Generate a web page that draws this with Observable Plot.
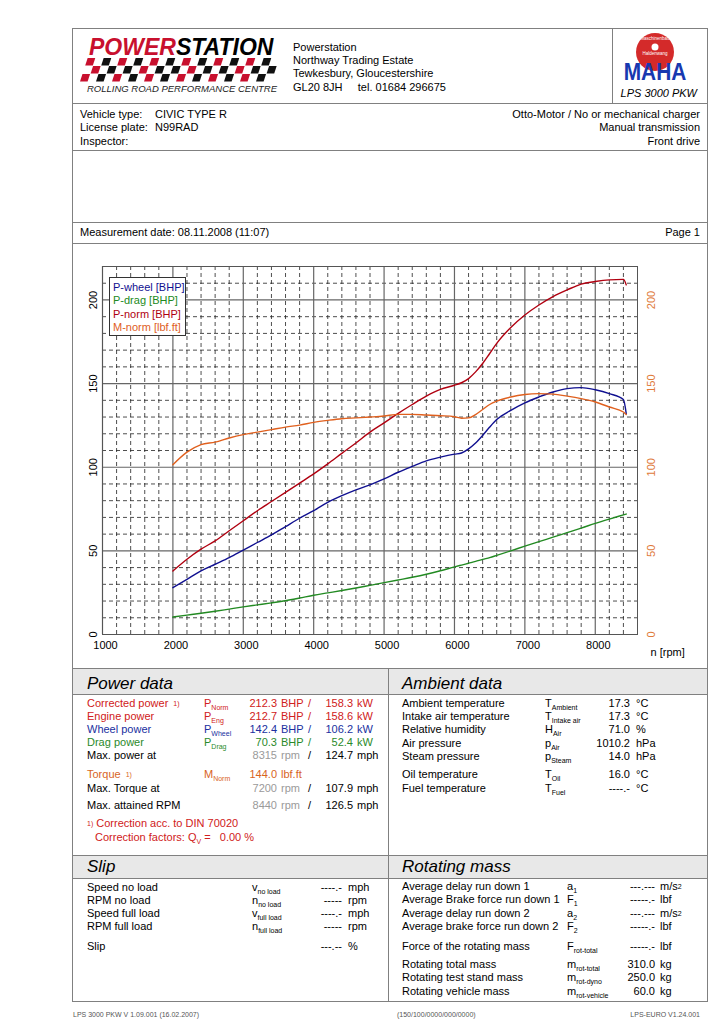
<!DOCTYPE html>
<html><head><meta charset="utf-8">
<script src="https://cdn.jsdelivr.net/npm/d3@7"></script>
<script src="https://cdn.jsdelivr.net/npm/@observablehq/plot@0.6"></script>
<style>
body{margin:0;background:#fff;}
#page{position:relative;width:724px;height:1024px;font-family:"Liberation Sans",Arial,sans-serif;color:#000;overflow:hidden;background:#fff;}
.a{position:absolute;white-space:nowrap;font-size:11px;line-height:11px;}
.hl{position:absolute;background:#808080;height:1px;}
.vl{position:absolute;background:#808080;width:1px;}
.band{position:absolute;background:#e8e8e8;}
.sub{font-size:7px;position:relative;top:3px;}
.sup{font-size:7px;position:relative;top:-1px;}
.hd{position:absolute;font-size:17px;font-style:italic;line-height:17px;white-space:nowrap;}
#chart{position:absolute;left:72px;top:243px;}
</style></head>
<body><div id="page"></div>
<script>
// ---------- chart data ----------
const rpm    = [2000,2200,2400,2600,2800,3000,3200,3400,3600,3800,4000,4200,4400,4600,4800,5000,5200,5400,5600,5800,6000,6100,6200,6300,6400,6500,6600,6800,7000,7200,7400,7600,7800,8000,8200,8400,8440];
const pWheel = [28,33,38,42,46,50.5,55,59.5,64.5,69.5,74,79,83,86.5,89.5,93,97,100.5,103.8,106,107.8,108.5,111,114.5,119,124,128.5,134,138.5,142,145,147,147.6,146.3,144,140.5,132];
const pDrag  = [10.5,11.6,12.7,13.9,15.2,16.5,17.7,18.9,20.2,21.8,23.5,24.9,26.3,27.8,29.4,31,32.6,34.2,36,38.1,40.4,41.5,42.6,43.7,44.9,46,47.3,50,52.8,55.5,58.2,60.9,63.6,66.4,69,71.5,72];
const pNorm  = [38,45,51,56,62,68,74,79.5,85,90.5,96,102,108.3,114.5,121,126.5,132.2,137.5,142.5,146.5,149,150.5,153,157,162,168,174,183.5,191,197,202,206,209.5,211,212,212.3,209];
const mNorm  = [101.5,109,113.5,115,117.5,119.5,121,122.5,124,125.2,126.8,128,129,129.5,130,130.6,131.6,131.6,131.2,130.8,130.2,129.3,129.5,131.5,134.5,137.5,139.5,142,143.5,144,143.7,142.5,141,139,136,133,131.5];
const seriesNames  = ["P-wheel [BHP]","P-drag [BHP]","P-norm [BHP]","M-norm [lbf.ft]"];
const seriesColors = ["#101090","#228a22","#b00010","#e0601e"];
const xTicks = [1000,2000,3000,4000,5000,6000,7000,8000];
const yTicks = [0,50,100,150,200];

// ---------- text data ----------
const address = ["Powerstation","Northway Trading Estate","Tewkesbury, Gloucestershire","GL20 8JH&nbsp;&nbsp;&nbsp;&nbsp; tel. 01684 296675"];
const vehicleLeft  = [["Vehicle type:","CIVIC TYPE R"],["License plate:","N99RAD"],["Inspector:",""]];
const vehicleRight = ["Otto-Motor / No or mechanical charger","Manual transmission","Front drive"];
const powerRows = [
  ["Corrected power","1)","P","Norm","212.3","BHP","158.3","kW","red"],
  ["Engine power","","P","Eng","212.7","BHP","158.6","kW","red"],
  ["Wheel power","","P","Wheel","142.4","BHP","106.2","kW","blue"],
  ["Drag power","","P","Drag","70.3","BHP","52.4","kW","green"],
  ["Max. power at","","","","8315","rpm","124.7","mph","black"],
  ["Torque","1)","M","Norm","144.0","lbf.ft","","","orange"],
  ["Max. Torque at","","","","7200","rpm","107.9","mph","black"],
  ["Max. attained RPM","","","","8440","rpm","126.5","mph","black"]
];
const powerY = [703,716,729,742,755,774,788,805];
const ambientRows = [
  ["Ambient temperature","T","Ambient","17.3","°C"],
  ["Intake air temperature","T","Intake air","17.3","°C"],
  ["Relative humidity","H","Air","71.0","%"],
  ["Air pressure","p","Air","1010.2","hPa"],
  ["Steam pressure","p","Steam","14.0","hPa"],
  ["Oil temperature","T","Oil","16.0","°C"],
  ["Fuel temperature","T","Fuel","----.-","°C"]
];
const ambientY = [703,716,729,743,756,774,788];
const slipRows = [
  ["Speed no load","v","no load","----.-","mph"],
  ["RPM no load","n","no load","-----","rpm"],
  ["Speed full load","v","full load","----.-","mph"],
  ["RPM full load","n","full load","-----","rpm"],
  ["Slip","","","---.--","%"]
];
const slipY = [887,900,913,926,946];
const rotRows = [
  ["Average delay run down 1","a","1","---.---","m/s<span class='sup'>2</span>"],
  ["Average Brake force run down 1","F","1","-----.-","lbf"],
  ["Average delay run down 2","a","2","---.---","m/s<span class='sup'>2</span>"],
  ["Average brake force run down 2","F","2","-----.-","lbf"],
  ["Force of the rotating mass","F","rot-total","-----.-","lbf"],
  ["Rotating total mass","m","rot-total","310.0","kg"],
  ["Rotating test stand mass","m","rot-dyno","250.0","kg"],
  ["Rotating vehicle mass","m","rot-vehicle","60.0","kg"]
];
const rotY = [886,899,913,926,946,964,977,991];
const footer = ["LPS 3000 PKW V 1.09.001 (16.02.2007)","(150/100/0000/000/0000)","LPS-EURO V1.24.001"];

const COL = {red:"#d02020", blue:"#2030a0", green:"#2a8a2a", orange:"#d8641e", black:"#000", gray:"#9a9a9a"};

// ---------- page builder ----------
const page = document.getElementById("page");
function el(cls, css, html){ const d=document.createElement("div"); d.className=cls; Object.assign(d.style, css); if(html!==undefined) d.innerHTML=html; page.appendChild(d); return d; }
function t(x,y,html,opt={}){
  const css={top:(y-5.5)+"px"};
  if(opt.end) css.right=(724-x)+"px"; else css.left=x+"px";
  if(opt.color) css.color=opt.color;
  if(opt.size){ css.fontSize=opt.size+"px"; css.lineHeight=opt.size+"px"; css.top=(y-opt.size/2)+"px"; }
  if(opt.italic) css.fontStyle="italic";
  if(opt.bold) css.fontWeight="bold";
  return el("a", css, html);
}
function sym(s,sub){ return s ? s+"<span class='sub'>"+sub+"</span>" : ""; }

// frame & rules
el("", {position:"absolute",left:"72px",top:"28px",width:"636px",height:"974px",border:"1px solid #808080",boxSizing:"border-box"});
el("band",{left:"73px",top:"669px",width:"634px",height:"25px"});
el("band",{left:"73px",top:"856px",width:"634px",height:"22px"});
[103,150,222,243,668,694,855,878].forEach(y=>el("hl",{left:"72px",top:y+"px",width:"636px"}));
el("vl",{left:"612px",top:"28px",height:"75px"});
el("vl",{left:"388px",top:"668px",height:"334px"});

// logo
t(89,47,"<span style='color:#c8102e'>POWER</span>STATION",{size:23,italic:true,bold:true});
el("",{position:"absolute",left:"80px",top:"57px"},
 (()=>{let s="<svg width='205' height='27'><g transform='skewX(-18) translate(8,0)'>";
  for(let r=0;r<3;r++) for(let c=0;c<24;c++){ if((r+c)%2==0){ const col=(c%4==0||r==1&&c%6==1)?"#c8102e":"#111"; s+=`<rect x='${c*8}' y='${r*8+1}' width='7.6' height='7.6' fill='${col}'/>`; } }
  return s+"</g></svg>";})());
t(87,89,"ROLLING ROAD PERFORMANCE CENTRE",{size:9.5,italic:true,color:"#222"});
address.forEach((s,i)=>t(293,47+i*13.4,s));
el("",{position:"absolute",left:"621px",top:"31px",overflow:"visible"},
 "<svg width='76' height='56' style='overflow:visible'><circle cx='34' cy='21' r='19' fill='#d42a2a'/><circle cx='34' cy='16' r='3.5' fill='#fff'/>"+
 "<text x='34' y='9' font-size='4.5' fill='#fff' text-anchor='middle' font-family='Liberation Sans'>Maschinenbau</text>"+
 "<text x='34' y='24' font-size='4.5' fill='#fff' text-anchor='middle' font-family='Liberation Sans'>Haldenwang</text>"+
 "<text font-size='19' font-weight='bold' fill='#1838b0' text-anchor='middle' font-family='Liberation Sans Narrow, Liberation Sans' transform='translate(34,49) scale(1.1,1.3)'>MAHA</text></svg>");
t(697,93,"LPS 3000 PKW",{end:true,italic:true});

// vehicle info
vehicleLeft.forEach((r,i)=>{ t(80,114+i*13.5,r[0]); t(155,114+i*13.5,r[1]); });
vehicleRight.forEach((s,i)=>t(700,114+i*13.5,s,{end:true}));
t(80,232,"Measurement date: 08.11.2008 (11:07)");
t(700,232,"Page 1",{end:true});

// section headers
el("hd",{left:"87px",top:"675px"},"Power data");
el("hd",{left:"402px",top:"675px"},"Ambient data");
el("hd",{left:"87px",top:"858px"},"Slip");
el("hd",{left:"402px",top:"858px"},"Rotating mass");

// power data
powerRows.forEach((r,i)=>{
  const y=powerY[i], c=COL[r[8]], isInfo=r[8]==="black";
  t(87,y,r[0]+(r[1]?" <span class='sup'>&nbsp;"+r[1]+"</span>":""),{color:c});
  if(r[2]) t(204,y,sym(r[2],r[3]),{color:c});
  t(277,y,r[4],{end:true,color:isInfo?COL.gray:c});
  t(281,y,r[5],{color:isInfo?COL.gray:c});
  if(r[6]){ t(308,y,"/",{color:c}); t(353,y,r[6],{end:true,color:c}); t(357,y,r[7],{color:c}); }
});
t(87,823,"<span class='sup'>1)</span> Correction acc. to DIN 70020",{color:COL.red});
t(95,837,"Correction factors: Q<span class='sub'>V</span> =&nbsp;&nbsp; 0.00 %",{color:COL.red});

ambientRows.forEach((r,i)=>{ const y=ambientY[i]; t(402,y,r[0]); t(545,y,sym(r[1],r[2])); t(630,y,r[3],{end:true}); t(636,y,r[4]); });
slipRows.forEach((r,i)=>{ const y=slipY[i]; t(87,y,r[0]); t(252,y,sym(r[1],r[2])); t(342,y,r[3],{end:true}); t(348,y,r[4]); });
rotRows.forEach((r,i)=>{ const y=rotY[i]; t(402,y,r[0]); t(567,y,sym(r[1],r[2])); t(655,y,r[3],{end:true}); t(660,y,r[4]); });

t(73,1014,footer[0],{size:7,color:"#555"});
t(397,1014,footer[1],{size:7,color:"#555"});
t(700,1014,footer[2],{size:7,color:"#555",end:true});

// ---------- chart ----------
const series = [pWheel,pDrag,pNorm,mNorm];
const data = series.flatMap((vals,k)=>rpm.map((r,i)=>({rpm:r, value:vals[i], series:seriesNames[k]})));
const minorX = d3.range(1000,8601,200).filter(v=>v%1000!==0);
const majorX = d3.range(1000,8601,1000);
const minorY = d3.range(0,221,10).filter(v=>v%50!==0 && v<220);
const majorY = d3.range(0,220,50);

const chart = Plot.plot({
  width:636, height:425,
  marginLeft:30, marginRight:71, marginTop:23, marginBottom:34,
  x:{domain:[1000,8600]},
  y:{domain:[0,220]},
  color:{domain:seriesNames, range:seriesColors},
  style:{fontFamily:"Liberation Sans, Arial, sans-serif", fontSize:"11px", background:"transparent", overflow:"visible"},
  marks:[
    Plot.ruleX(minorX,{stroke:"#222",strokeWidth:0.8,strokeDasharray:"4,3"}),
    Plot.ruleY(minorY,{stroke:"#222",strokeWidth:0.8,strokeDasharray:"4,3"}),
    Plot.ruleX(majorX,{stroke:"#666",strokeWidth:1.2}),
    Plot.ruleY(majorY,{stroke:"#666",strokeWidth:1.2}),
    Plot.frame({stroke:"#555"}),
    Plot.axisX(xTicks,{tickSize:0,tickPadding:7,dx:3,label:null,fontSize:11,tickFormat:d=>String(d)}),
    Plot.axisY(yTicks,{anchor:"left",tickSize:0,tickPadding:6,tickRotate:-90,label:null,fontSize:11}),
    Plot.axisY(yTicks,{anchor:"right",tickSize:0,tickPadding:17,tickRotate:-90,label:null,fontSize:11,color:"#e07a3a"}),
    Plot.line(data,{x:"rpm",y:"value",stroke:"series",z:"series",strokeWidth:1.4,curve:"monotone-x"}),
    Plot.text(["n [rpm]"],{frameAnchor:"bottom-right",textAnchor:"start",dx:13,dy:21,fontSize:11})
  ]
});
chart.id="chart";
page.appendChild(chart);

el("",{position:"absolute",left:"109px",top:"277px",width:"77px",height:"59px",border:"1px solid #333",background:"#fff",boxSizing:"border-box",padding:"3px 0 0 3px",fontSize:"11px",lineHeight:"13.4px"},
  seriesNames.map((n,i)=>`<div style="color:${seriesColors[i]};white-space:nowrap">${n}</div>`).join(""));
</script>
</body></html>
